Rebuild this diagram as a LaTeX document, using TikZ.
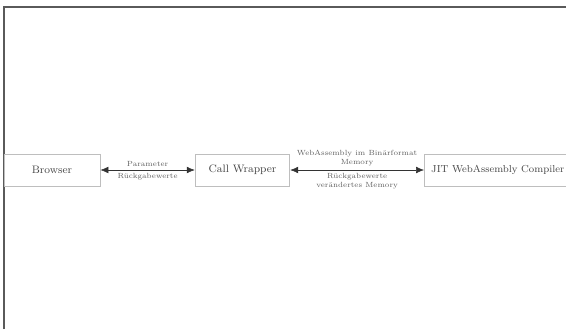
\documentclass[tikz,border=0pt]{standalone}
\usetikzlibrary{arrows.meta}

\definecolor{boxgray}{RGB}{190,190,190}
\definecolor{textgray}{RGB}{70,70,70}
\definecolor{labelgray}{RGB}{95,95,95}
\definecolor{framegray}{RGB}{90,90,90}

\tikzset{every picture/.style={line width=0.75pt}}
\tikzset{
  part/.style={draw=boxgray, line width=0.6pt, text=textgray, font=\fontsize{8.1}{10}\selectfont,
    minimum height=24pt, inner xsep=4.5pt},
  link/.style={{Latex[length=6pt,width=5pt]}-{Latex[length=6pt,width=5pt]}, line width=0.4pt, draw=black!80},
  lbl/.style={text=labelgray, font=\fontsize{5.6}{6.9}\selectfont, align=center, inner sep=2.5pt}
}

\begin{document}
\begin{tikzpicture}[x=0.75pt,y=0.75pt,yscale=-1,xscale=1]
	\useasboundingbox (0,0) rectangle (566,329);

	%Frame lines
	\draw [framegray, line width=1pt] (4,329) -- (4,7) -- (566,7) ;

	% Nodes
	\node [part, minimum width=72pt] (browser) at (52,170) {Browser};
	\node [part, minimum width=71pt] (wrapper) at (242.5,170) {Call Wrapper};
	\node [part, anchor=west, minimum width=110pt, font=\fontsize{7.6}{10}\selectfont] (jit) at (424,170) {JIT WebAssembly Compiler};

	% Connectors
	\draw [link] (browser) -- node [lbl, above] {Parameter} node [lbl, below] {Rückgabewerte} (wrapper) ;
	\draw [link] (wrapper) -- node [lbl, above] {WebAssembly im Binärformat\\Memory} node [lbl, below] {Rückgabewerte\\verändertes Memory} (jit) ;

\end{tikzpicture}
\end{document}
